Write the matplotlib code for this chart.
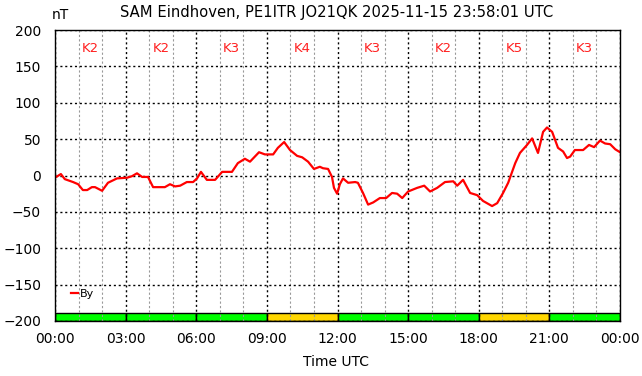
import numpy as np
import matplotlib as mpl
mpl.use("Agg")
from matplotlib import pyplot as plt
from matplotlib.ticker import MultipleLocator, FuncFormatter

TITLE = "SAM Eindhoven, PE1ITR JO21QK 2025-11-15 23:58:01 UTC"

# minutes after 00:00 UTC, By in nT
minutes = [
    0, 3, 15, 25, 46, 59, 71, 82, 94, 102, 120, 135, 158, 184, 196, 209,
    222, 237, 250, 268, 280, 293, 306, 319, 336, 352, 362, 372, 387, 408,
    426, 451, 466, 484, 497, 520, 535, 556, 568, 584, 599, 617, 630, 645,
    660, 675, 683, 696, 706, 711, 719, 726, 734, 747, 765, 772, 785, 798,
    811, 828, 844, 859, 872, 885, 900, 923, 941, 956, 974, 994, 1015, 1025,
    1040, 1058, 1076, 1091, 1114, 1127, 1142, 1155, 1173, 1185, 1203, 1216,
    1231, 1244, 1254, 1267, 1282, 1295, 1305, 1313, 1325, 1346, 1361, 1374,
    1389, 1402, 1415, 1428, 1440,
]
by_nt = [
    0, -2, 2, -5, -9, -12, -20, -20, -16, -16, -21, -10, -4, -3, -1, 3,
    -2, -2, -16, -16, -16, -12, -15, -14, -9, -9, -4, 5, -6, -6,
    5, 5, 17, 23, 19, 32, 29, 29, 38, 46, 35, 27, 25, 19,
    9, 12, 10, 9, -2, -17, -25, -12, -4, -10, -9, -10, -24, -40,
    -37, -31, -31, -24, -25, -31, -22, -17, -14, -22, -17, -9, -8, -14,
    -6, -24, -27, -35, -42, -38, -24, -10, 17, 31, 42, 51,
    31, 60, 66, 60, 38, 33, 24, 26, 35, 35, 42, 39,
    48, 44, 43, 36, 32,
]

# K index per 3-hour block
k_index = [2, 2, 3, 4, 3, 2, 5, 3]


def k_color(k):
    return "#00ff00" if k <= 3 else "#ffd700"


def main():
    mpl.rcParams["font.family"] = "DejaVu Sans"
    mpl.rcParams["font.size"] = 10

    fig = plt.figure(figsize=(6.42, 3.76), dpi=100)
    ax = fig.add_axes([55 / 642, 1 - 321 / 376, 565 / 642, 291 / 376])

    hours = np.array(minutes) / 60.0
    ax.set_xlim(0, 24)
    ax.set_ylim(-200, 200)

    # K index bars along the bottom
    for i, k in enumerate(k_index):
        ax.bar(3 * i, 11, width=3, bottom=-200, align="edge",
               color=k_color(k), edgecolor="black", linewidth=1, zorder=1)
        ax.text(3 * i + 1.5, 174, f"K{k}", color="#ff2020", ha="center",
                va="center", fontsize=9.5, zorder=3)

    ax.plot(hours, by_nt, color="red", linewidth=1.6, label="By", zorder=4)

    ax.xaxis.set_major_locator(MultipleLocator(3))
    ax.xaxis.set_minor_locator(MultipleLocator(1))
    ax.yaxis.set_major_locator(MultipleLocator(50))
    ax.xaxis.set_major_formatter(
        FuncFormatter(lambda v, p: f"{int(v) % 24:02d}:00"))
    ax.tick_params(which="both", length=0, pad=8)
    ax.tick_params(axis="y", pad=10)

    ax.grid(which="minor", axis="x", color="#999999", linestyle=(0, (2, 2)),
            linewidth=0.8, zorder=2)
    ax.grid(which="major", color="black", linestyle=(0, (1.5, 2)),
            linewidth=1, zorder=2)
    ax.set_axisbelow(False)

    for spine in ax.spines.values():
        spine.set_linewidth(1)
        spine.set_zorder(5)

    fig.text(337 / 642, 1 - 12 / 376, TITLE, ha="center", va="center",
             fontsize=10.6)
    fig.text(60 / 642, 1 - 15 / 376, "nT", ha="center", va="center",
             fontsize=10)
    fig.text(336 / 642, 1 - 362 / 376, "Time UTC", ha="center",
             va="center", fontsize=10)

    leg = ax.legend(loc="lower left", bbox_to_anchor=(0.01, 0.04),
                    frameon=False, handlelength=0.7, handletextpad=0.1,
                    fontsize=8)
    leg.set_zorder(6)

    fig.savefig("out.png", dpi=100)
    plt.close(fig)


if __name__ == "__main__":
    main()
